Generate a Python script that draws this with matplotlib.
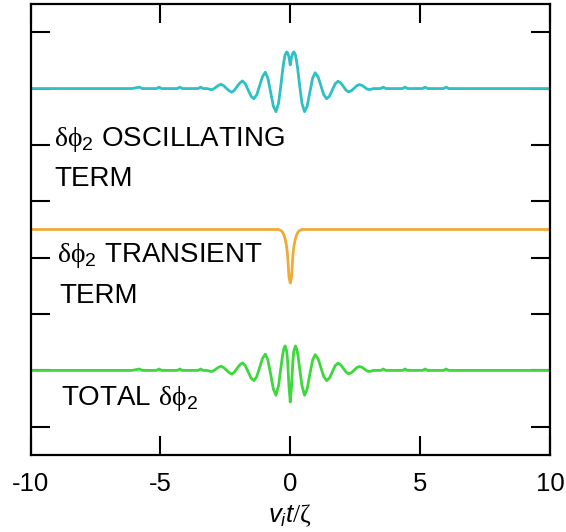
import matplotlib
matplotlib.use("Agg")
import matplotlib.pyplot as plt

plt.rcParams['font.family'] = ['Liberation Sans', 'DejaVu Sans']
plt.rcParams['mathtext.fontset'] = 'custom'
plt.rcParams['mathtext.rm'] = 'Liberation Serif'
plt.rcParams['mathtext.sf'] = 'Liberation Sans'
plt.rcParams['mathtext.it'] = 'Liberation Sans:italic'
plt.rcParams['mathtext.bf'] = 'Liberation Sans:bold'

# ---- data ----
t = [-10.0, -6.1, -5.8, -5.7, -5.15, -5.05, -4.95, -4.35, -4.25, -4.15, -3.55, -3.45, -3.35, -3.2,
     -3.05, -2.95, -2.86, -2.76, -2.66, -2.56, -2.46, -2.35, -2.25, -2.15, -2.05, -1.94, -1.84,
     -1.73, -1.62, -1.51, -1.40, -1.29, -1.18, -1.07, -0.96, -0.86, -0.75, -0.65, -0.55, -0.45,
     -0.35, -0.30, -0.25, -0.20, -0.14, -0.10, -0.05, 0.0,
     0.05, 0.10, 0.14, 0.20, 0.25, 0.30, 0.35, 0.45, 0.55, 0.65, 0.75, 0.86, 0.96, 1.07, 1.18,
     1.29, 1.40, 1.51, 1.62, 1.73, 1.84, 1.94, 2.05, 2.15, 2.25, 2.35, 2.46, 2.56, 2.66, 2.76,
     2.86, 2.95, 3.05, 3.2, 3.48, 3.58, 3.68, 4.32, 4.42, 4.52, 5.09, 5.19, 5.29, 5.9, 6.0, 6.1, 10.0]

oscillating = [0.0, 0.0, 0.025, 0.0, 0.0, 0.025, 0.0, 0.0, 0.025, 0.0, 0.0, 0.025, 0.0, 0.0,
               -0.02, -0.007, 0.025, 0.057, 0.075, 0.05, 0.005, -0.04, -0.065, -0.03, 0.035, 0.10, 0.135,
               0.085, -0.025, -0.135, -0.18, -0.11, 0.05, 0.21, 0.29, 0.183, -0.078, -0.313, -0.41, -0.26,
               0.10, 0.30, 0.47, 0.595, 0.65, 0.63, 0.56, 0.42,
               0.56, 0.63, 0.65, 0.595, 0.47, 0.30, 0.10, -0.26, -0.41, -0.313, -0.078, 0.183, 0.28, 0.21, 0.05,
               -0.11, -0.18, -0.135, -0.025, 0.085, 0.13, 0.10, 0.035, -0.03, -0.06, -0.04, 0.005, 0.05, 0.07, 0.057,
               0.025, -0.007, -0.02, 0.0, 0.0, 0.025, 0.0, 0.0, 0.025, 0.0, 0.0, 0.025, 0.0, 0.0, 0.025, 0.0, 0.0]

transient = [0.0, 0.0, 0.0, 0.0, 0.0, 0.0, 0.0, 0.0, 0.0, 0.0, 0.0, 0.0, 0.0, 0.0,
             0.0, 0.0, 0.0, 0.0, 0.0, 0.0, 0.0, 0.0, 0.0, 0.0, 0.0, 0.0, 0.0,
             0.0, 0.0, 0.0, 0.0, 0.0, 0.0, 0.0, 0.0, 0.0, 0.0, 0.0, 0.0, 0.0,
             -0.02, -0.045, -0.09, -0.16, -0.30, -0.47, -0.84, -0.95,
             -0.84, -0.47, -0.30, -0.16, -0.09, -0.045, -0.02, 0.0, 0.0, 0.0, 0.0, 0.0, 0.0, 0.0, 0.0,
             0.0, 0.0, 0.0, 0.0, 0.0, 0.0, 0.0, 0.0, 0.0, 0.0, 0.0, 0.0, 0.0, 0.0, 0.0,
             0.0, 0.0, 0.0, 0.0, 0.0, 0.0, 0.0, 0.0, 0.0, 0.0, 0.0, 0.0, 0.0, 0.0, 0.0, 0.0, 0.0]

total = [0.0, 0.0, 0.025, 0.0, 0.0, 0.025, 0.0, 0.0, 0.025, 0.0, 0.0, 0.025, 0.0, 0.0,
         -0.02, -0.007, 0.025, 0.057, 0.075, 0.05, 0.005, -0.04, -0.065, -0.03, 0.035, 0.10, 0.135,
         0.085, -0.025, -0.135, -0.18, -0.11, 0.05, 0.21, 0.29, 0.183, -0.078, -0.33, -0.44, -0.27,
         0.08, 0.255, 0.38, 0.435, 0.35, 0.16, -0.28, -0.56,
         -0.28, 0.16, 0.35, 0.435, 0.38, 0.255, 0.08, -0.27, -0.44, -0.33, -0.078, 0.183, 0.28, 0.21, 0.05,
         -0.11, -0.18, -0.135, -0.025, 0.085, 0.13, 0.10, 0.035, -0.03, -0.06, -0.04, 0.005, 0.05, 0.07, 0.057,
         0.025, -0.007, -0.02, 0.0, 0.0, 0.025, 0.0, 0.0, 0.025, 0.0, 0.0, 0.025, 0.0, 0.0, 0.025, 0.0, 0.0]

x_ticks = [-10, -5, 0, 5, 10]
x_tick_labels = ['-10', '-5', '0', '5', '10']

# ---- layout / style ----
OFF_OSC, OFF_TR, OFF_TOT = 6.0, 3.5, 1.0

fig = plt.figure(figsize=(5.66, 5.32), dpi=100)
ax = fig.add_axes([30.5 / 566, 77 / 532, 519.5 / 566, 451 / 532])

ax.plot(t, [v + OFF_OSC for v in oscillating], color='#2EC0C2', lw=2.0, solid_joinstyle='round')
ax.plot(t, [v + OFF_TR for v in transient], color='#F0AA38', lw=2.0, solid_joinstyle='round')
ax.plot(t, [v + OFF_TOT for v in total], color='#3CD83C', lw=2.0, solid_joinstyle='round')

ax.set_xlim(-10, 10)
ax.set_ylim(-0.5, 7.5)
ax.set_xticks(x_ticks)
ax.set_xticklabels(x_tick_labels)
ax.set_yticks(range(0, 8))
ax.set_yticklabels([])
ax.tick_params(axis='both', direction='in', length=14, width=1.5, top=True, right=True,
               labelsize=18.5, pad=12)
for s in ax.spines.values():
    s.set_linewidth(1.6)

ax.set_xlabel(r'$v_i t/\mathrm{\zeta}$', fontsize=18.5, labelpad=5)

txt = dict(fontsize=20, va='baseline', ha='left', color='black')
grk = r'$\mathrm{\delta\phi}_\mathsf{2}$'
ax.text(-9.10, 4.98, grk + ' OSCILLATING', **txt)
ax.text(-9.10, 4.27, 'TERM', **txt)
ax.text(-8.98, 2.92, grk + ' TRANSIENT', **txt)
ax.text(-8.87, 2.195, 'TERM', **txt)
ax.text(-8.83, 0.386, 'TOTAL ' + grk, **txt)

fig.savefig('out.png', dpi=100)
